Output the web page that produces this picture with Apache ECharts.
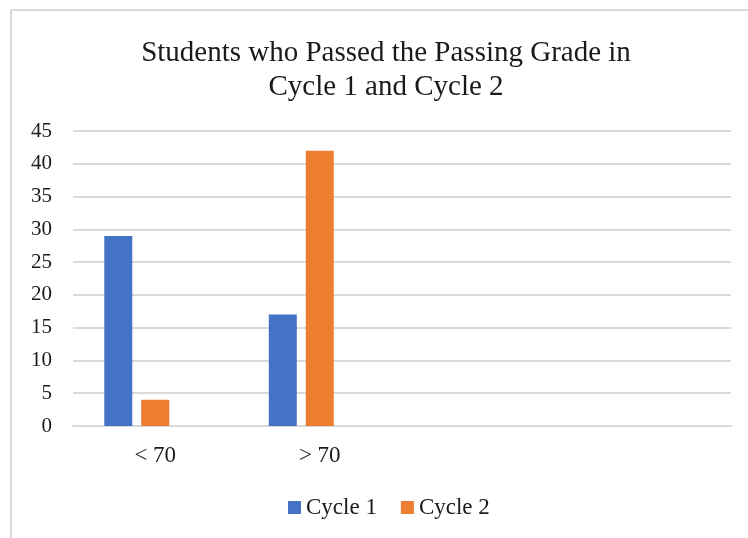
<!DOCTYPE html>
<html>
<head>
<meta charset="utf-8">
<script src="https://cdn.jsdelivr.net/npm/echarts@6/dist/echarts.min.js"></script>
<style>
html,body{margin:0;padding:0;background:#fff;}
#chart{width:748px;height:538px;}
</style>
</head>
<body>
<div id="chart"></div>
<script>
var categories = ['< 70', '> 70', '', ''];
var cycle1 = [29, 17, null, null];
var cycle2 = [4, 42, null, null];
var yTicks = { min: 0, max: 45, interval: 5 };

var serif = '"Liberation Serif", "Times New Roman", serif';
var chart = echarts.init(document.getElementById('chart'));
chart.setOption({
  backgroundColor: '#ffffff',
  animation: false,
  graphic: [
    { type: 'line', shape: { x1: 11, y1: 10, x2: 760, y2: 10 }, style: { stroke: '#d9d9d9', lineWidth: 2 } },
    { type: 'line', shape: { x1: 11, y1: 10, x2: 11, y2: 560 }, style: { stroke: '#d9d9d9', lineWidth: 2 } }
  ],
  title: {
    text: 'Students who Passed the Passing Grade in\nCycle 1 and Cycle 2',
    left: 381,
    top: 31,
    textAlign: 'center',
    textStyle: { fontFamily: serif, fontSize: 29, fontWeight: 'normal', color: '#1a1a1a', lineHeight: 34 }
  },
  legend: {
    data: ['Cycle 1', 'Cycle 2'],
    bottom: 14,
    left: 283,
    itemWidth: 13,
    itemHeight: 13,
    itemGap: 24,
    icon: 'rect',
    textStyle: { fontFamily: serif, fontSize: 23, color: '#1a1a1a' }
  },
  grid: { left: 73, right: 17, top: 131, bottom: 112 },
  xAxis: {
    type: 'category',
    data: categories,
    axisLine: { lineStyle: { color: '#d9d9d9', width: 2 } },
    axisTick: { show: false },
    axisLabel: { fontFamily: serif, fontSize: 23, color: '#1a1a1a', margin: 18 }
  },
  yAxis: {
    type: 'value',
    min: yTicks.min,
    max: yTicks.max,
    interval: yTicks.interval,
    axisLine: { show: false },
    axisTick: { show: false },
    splitLine: { lineStyle: { color: '#d9d9d9', width: 2 } },
    axisLabel: { fontFamily: serif, fontSize: 21, color: '#1a1a1a', margin: 21 }
  },
  series: [
    { name: 'Cycle 1', type: 'bar', data: cycle1, barWidth: 28, barGap: '32%', barCategoryGap: '38%',
      itemStyle: { color: '#4472c4' } },
    { name: 'Cycle 2', type: 'bar', data: cycle2, barWidth: 28,
      itemStyle: { color: '#ed7d31' } },
    { name: 'Series 3', type: 'bar', data: [null, null, null, null], barWidth: 28 }
  ]
});
</script>
</body>
</html>
